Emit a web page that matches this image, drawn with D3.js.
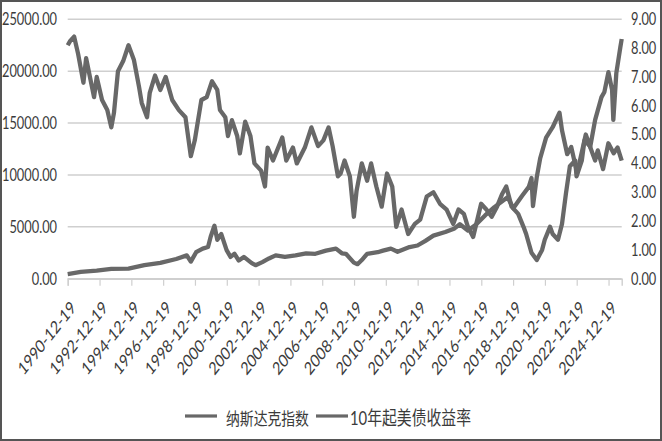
<!DOCTYPE html>
<html><head><meta charset="utf-8">
<script src="https://cdn.jsdelivr.net/npm/d3@7"></script>
<style>html,body{margin:0;padding:0;background:#fff;} svg{display:block;}</style>
</head><body><svg id="c" width="662" height="441"></svg>
<script>
// ---------- data ----------
const tickLabels = ["1990-12-19","1992-12-19","1994-12-19","1996-12-19","1998-12-19","2000-12-19",
  "2002-12-19","2004-12-19","2006-12-19","2008-12-19","2010-12-19","2012-12-19","2014-12-19",
  "2016-12-19","2018-12-19","2020-12-19","2022-12-19","2024-12-19"];
const leftTicks = [0,5000,10000,15000,20000,25000];
const rightTicks = [0,1,2,3,4,5,6,7,8,9];
const seriesNames = ["纳斯达克指数","10年起美债收益率"];

const nasdaqDates = ["1990-12-19","1991-10-15","1992-10-15","1993-09-15","1994-10-15","1995-10-15",
  "1996-10-15","1997-10-15","1998-06-15","1998-09-15","1999-01-15","1999-06-15","1999-10-15",
  "1999-12-15","2000-03-10","2000-05-15","2000-08-15","2000-12-15","2001-03-15","2001-06-15",
  "2001-09-20","2002-01-15","2002-07-15","2002-10-10","2003-03-15","2003-08-15","2004-01-15",
  "2004-08-15","2005-04-15","2005-12-15","2006-07-15","2007-03-15","2007-10-31","2008-03-15",
  "2008-06-15","2008-12-15","2009-03-09","2009-06-15","2009-10-15","2010-06-15","2010-10-15",
  "2011-04-15","2011-09-15","2012-06-15","2012-12-15","2013-06-15","2013-12-15","2014-09-15",
  "2015-04-15","2015-08-15","2016-02-15","2016-08-15","2017-03-15","2017-10-15","2018-08-15",
  "2018-12-24","2019-07-15","2019-12-15","2020-02-15","2020-03-20","2020-06-15","2020-09-01",
  "2021-01-15","2021-06-15","2021-11-19","2022-01-15","2022-05-15","2022-08-15","2022-12-28",
  "2023-04-15","2023-07-15","2023-10-25","2024-02-15","2024-07-10","2024-09-15","2024-12-16",
  "2025-03-10","2025-04-08","2025-06-15","2025-09-15","2025-10-17"];
const nasdaqValues = [450,650,780,950,980,1300,
  1520,1900,2250,1650,2550,2900,3050,
  4040,5100,3750,4300,2750,2100,2400,
  1750,2100,1500,1300,1600,1950,2250,
  2100,2250,2450,2400,2700,2900,2450,
  2400,1550,1400,1800,2400,2550,2700,
  2900,2600,3050,3200,3650,4150,4500,
  4850,5250,4650,5200,6100,6900,7850,
  6800,8000,8850,9700,7000,9800,11600,
  13600,14600,16000,14300,12000,12700,10200,
  12200,13900,12700,15300,17500,18000,19900,
  18200,15300,19800,22300,23100];

const yieldDates = ["1990-12-19","1991-02-15","1991-05-15","1991-08-15","1991-12-15","1992-02-15",
  "1992-08-15","1992-10-15","1993-02-15","1993-06-15","1993-09-15","1993-11-15","1994-02-15",
  "1994-06-15","1994-10-15","1995-02-15","1995-06-15","1995-08-15","1995-12-15","1996-02-15",
  "1996-06-15","1996-10-15","1997-02-15","1997-07-15","1997-12-15","1998-05-15","1998-09-15",
  "1998-12-15","1999-05-15","1999-09-15","2000-01-15","2000-05-15","2000-07-15","2000-11-15",
  "2001-01-15","2001-04-15","2001-08-15","2001-10-15","2002-02-15","2002-06-15","2002-09-15",
  "2003-02-15","2003-05-15","2003-07-15","2003-11-15","2004-06-15","2004-09-15","2005-02-15",
  "2005-05-15","2005-11-15","2006-04-15","2006-09-15","2007-01-15","2007-05-15","2007-08-15",
  "2007-12-15","2008-02-15","2008-05-15","2008-09-15","2008-12-15","2009-02-15","2009-06-15",
  "2009-10-15","2010-01-15","2010-05-15","2010-09-15","2011-01-15","2011-05-15","2011-08-15",
  "2011-12-15","2012-05-15","2012-10-15","2013-02-15","2013-07-15","2013-12-15","2014-05-15",
  "2014-10-15","2015-03-15","2015-07-15","2015-11-15","2016-02-15","2016-06-15","2016-12-15",
  "2017-04-15","2017-08-15","2017-12-15","2018-04-15","2018-07-15","2018-11-15","2019-04-15",
  "2019-08-15","2019-10-15","2020-02-15","2020-06-15","2020-10-15","2020-12-15","2021-04-15",
  "2021-06-15","2021-10-15","2022-01-15","2022-04-15","2022-07-15","2022-11-15","2022-12-15",
  "2023-04-15","2023-06-15","2023-10-15","2024-02-15","2024-04-15","2024-08-15","2024-12-15",
  "2025-04-15","2025-07-15","2025-10-17"];
const yieldValues = [8.10,8.25,8.40,7.80,6.80,7.65,
  6.30,7.00,6.20,5.85,5.25,5.75,7.20,
  7.55,8.10,7.60,6.65,6.10,5.60,6.45,
  7.05,6.55,7.00,6.20,5.85,5.60,4.25,
  4.80,6.20,6.30,6.85,6.55,5.85,5.60,
  4.95,5.50,4.95,4.35,5.45,4.95,4.00,
  3.75,3.20,4.55,4.10,4.90,4.10,4.55,
  4.00,4.55,5.25,4.60,4.80,5.25,4.60,
  3.55,3.65,4.10,3.55,2.15,3.05,4.00,
  3.40,4.00,3.20,2.50,3.65,3.20,1.80,
  2.40,1.55,1.90,2.05,2.85,3.00,2.60,
  2.40,1.90,2.40,2.25,1.80,1.45,2.60,
  2.40,2.15,2.50,2.95,3.20,2.50,2.25,
  1.80,1.55,0.90,0.65,1.00,1.35,1.80,
  1.55,1.35,1.90,2.95,3.90,4.10,3.55,
  4.10,4.80,4.60,4.10,4.45,3.80,4.70,
  4.35,4.55,4.10];

// ---------- drawing ----------
const svg = d3.select("#c");
const W = 662, H = 441;
const parse = d3.timeParse("%Y-%m-%d");
const X0 = 67.7, X1 = 621.7, YB = 278.7, YT = 19.3;
const SY = 1.27; // vertical stretch of the original picture
const textCol = "#3b3b3b", lineCol = "#686868", gridCol = "#cfcfcf";
const fontFam = "Lato, 'Liberation Sans', sans-serif";

// scale a text's font so that its advance width equals target
function fitWidth(sel, target) {
  sel.each(function(){
    const fs = parseFloat(this.getAttribute("font-size"));
    const w = this.getComputedTextLength();
    if (w > 0) this.setAttribute("font-size", (fs * target / w).toFixed(2));
  });
}

svg.append("rect").attr("x",0).attr("y",0).attr("width",W).attr("height",H).attr("fill","#fff");

const x = d3.scaleTime().domain([parse("1990-12-19"), parse("2025-10-17")]).range([X0, X1]);
const yL = d3.scaleLinear().domain([0,25000]).range([YB, YT]);
const yR = d3.scaleLinear().domain([0,9]).range([YB, YT]);

// gridlines
svg.append("g").selectAll("line").data(leftTicks).join("line")
  .attr("x1",X0).attr("x2",X1).attr("y1",d=>yL(d)).attr("y2",d=>yL(d))
  .attr("stroke",gridCol).attr("stroke-width",1.4);

// bottom axis
const xAxis = d3.axisBottom(x).tickValues(tickLabels.map(parse)).tickSize(7).tickFormat("");
const gx = svg.append("g").attr("transform",`translate(0,${YB})`).call(xAxis);
gx.select(".domain").attr("stroke",gridCol).attr("stroke-width",1.4);
gx.selectAll(".tick line").attr("stroke",gridCol).attr("stroke-width",1.2);

const xl = svg.append("g").selectAll("text").data(tickLabels).join("text")
  .attr("transform",d=>`translate(${x(parse(d))+9},${YB+30}) scale(1,${SY}) rotate(-45)`)
  .attr("text-anchor","end").attr("font-family",fontFam).attr("font-size",14)
  .attr("fill",textCol).text(d=>d);
const xl0 = xl.filter((d,i)=>i===0).node();
const xfs = 14 * 75 / xl0.getComputedTextLength();
xl.attr("font-size", xfs.toFixed(2));

// left axis labels
const ll = svg.append("g").selectAll("text").data(leftTicks).join("text")
  .attr("transform",d=>`translate(57,${yL(d)}) scale(1,${SY})`)
  .attr("dy","0.36em").attr("text-anchor","end").attr("font-family",fontFam).attr("font-size",13)
  .attr("fill",textCol).text(d=>d3.format(".2f")(d));
const lfs = 13 * 55 / ll.filter(d=>d===25000).node().getComputedTextLength();
ll.attr("font-size", lfs.toFixed(2));

// right axis labels
svg.append("g").selectAll("text").data(rightTicks).join("text")
  .attr("transform",d=>`translate(631,${yR(d)}) scale(1,${SY})`)
  .attr("dy","0.36em").attr("text-anchor","start").attr("font-family",fontFam).attr("font-size",lfs.toFixed(2))
  .attr("fill",textCol).text(d=>d3.format(".2f")(d));

// series
const nasdaq = nasdaqDates.map((d,i)=>({date:parse(d), v:nasdaqValues[i]}));
const yld = yieldDates.map((d,i)=>({date:parse(d), v:yieldValues[i]}));
svg.append("path").datum(yld)
  .attr("d", d3.line().x(d=>x(d.date)).y(d=>yR(d.v)))
  .attr("fill","none").attr("stroke",lineCol).attr("stroke-width",4.3).attr("stroke-linejoin","round");
svg.append("path").datum(nasdaq)
  .attr("d", d3.line().x(d=>x(d.date)).y(d=>yL(d.v)))
  .attr("fill","none").attr("stroke",lineCol).attr("stroke-width",4.3).attr("stroke-linejoin","round");

// legend
const legY = 416;
const legItems = [{name:seriesNames[0], lx:185, tx:226, w:83},{name:seriesNames[1], lx:316, tx:350, w:121}];
const lg = svg.append("g");
legItems.forEach(it=>{
  lg.append("line").attr("x1",it.lx).attr("x2",it.lx+32).attr("y1",legY).attr("y2",legY)
    .attr("stroke",lineCol).attr("stroke-width",3.2);
  const t = lg.append("text").attr("transform",`translate(${it.tx},${legY+2.5}) scale(1,${SY})`)
    .attr("dy","0.35em").attr("font-family","Lato, 'Noto Sans CJK SC', sans-serif").attr("font-size",14.5)
    .attr("fill",textCol).text(it.name);
  fitWidth(t, it.w);
});

// chart border
svg.append("rect").attr("x",1).attr("y",1).attr("width",W-2).attr("height",H-2)
  .attr("fill","none").attr("stroke","#555").attr("stroke-width",2);
</script></body></html>
